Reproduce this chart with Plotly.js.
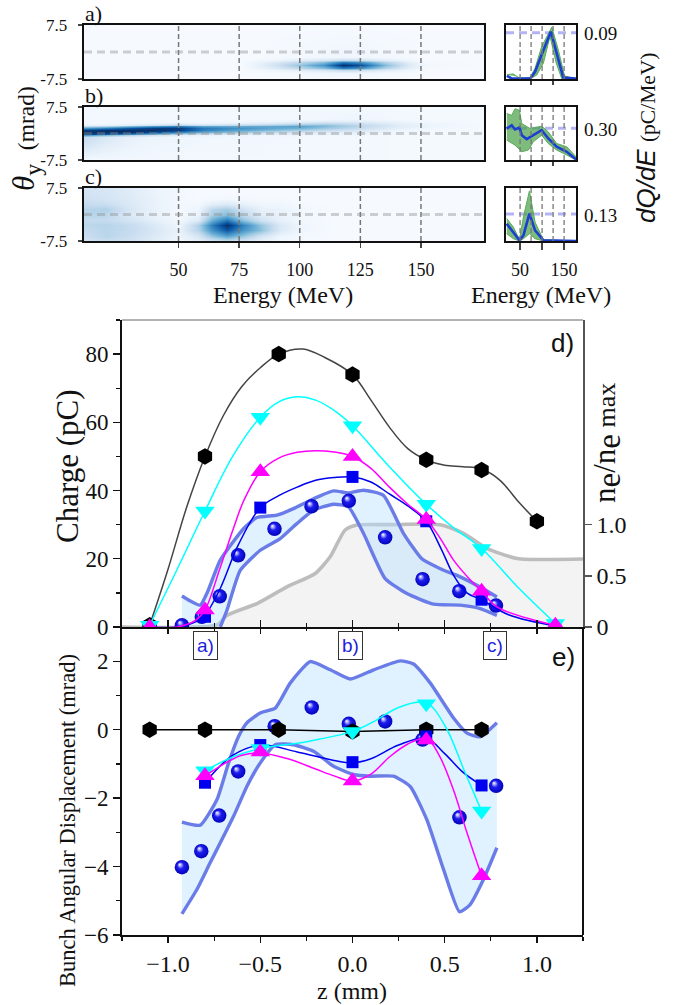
<!DOCTYPE html>
<html><head><meta charset="utf-8">
<script src="https://cdn.plot.ly/plotly-3.0.1.min.js"></script>
<style>html,body{margin:0;padding:0;background:#fff}</style></head>
<body><div id="plot" style="width:686px;height:1005px"></div>
<script>
// ---------- heatmap a
const hmAEnergy=[11,75,82,90,100,110,118,125,135,145,152,176];
const hmATheta=[-7.5,-5.8,-5.1,-4.4,-3.6,-2.8,-2.1,-1.4,7.5];
const hmAZ=[
[0,0,0,0,0,0,0,0,0,0,0,0],
[0,0,0,.01,.02,.03,.04,.04,.02,.01,0,0],
[0,0,.02,.05,.1,.16,.25,.22,.11,.04,0,0],
[0,0,.05,.14,.28,.43,.7,.62,.31,.1,.01,0],
[0,0,.07,.2,.4,.62,1,.88,.45,.14,.02,0],
[0,0,.05,.14,.28,.43,.7,.62,.31,.1,.01,0],
[0,0,.02,.05,.1,.16,.25,.22,.11,.04,0,0],
[0,0,0,.01,.02,.03,.04,.04,.02,.01,0,0],
[0,0,0,0,0,0,0,0,0,0,0,0]];
// ---------- heatmap b (one list per energy)
const hmBEnergy=[11,20,30,40,50,60,75,90,100,110,125,140,155,176];
const hmBTheta=[-7.5,-1,-.5,0,.5,1,1.5,2,2.5,3,3.5,4,7.5];
const hmBZ=[
[.02,.25,.6,.95,1,.95,.6,.25,.06,.02,.02,.02,.02],
[.02,.15,.45,.85,1,1,.7,.3,.08,.02,.02,.02,.02],
[.02,.08,.3,.7,1,1,.85,.45,.12,.03,.02,.02,.02],
[.02,.05,.18,.5,.9,1,.95,.6,.2,.05,.02,.02,.02],
[.02,.04,.1,.3,.7,.95,.95,.7,.3,.07,.02,.02,.02],
[.02,.03,.07,.2,.5,.7,.72,.55,.22,.05,.02,.02,.02],
[.02,.03,.05,.15,.38,.55,.62,.52,.28,.08,.02,.02,.02],
[.02,.02,.04,.1,.25,.42,.52,.54,.35,.14,.04,.02,.02],
[.02,.02,.04,.08,.18,.35,.48,.55,.42,.2,.07,.02,.02],
[.02,.02,.03,.06,.12,.25,.38,.45,.42,.25,.1,.03,.02],
[.02,.02,.03,.05,.1,.16,.24,.28,.27,.2,.1,.04,.02],
[.01,.01,.01,.02,.03,.05,.09,.12,.12,.09,.05,.02,.01],
[.01,.01,.01,.01,.01,.02,.03,.05,.05,.04,.02,.01,.01],
[.01,.01,.01,.01,.01,.01,.01,.01,.01,.01,.01,.01,.01]];
// ---------- heatmap c
const hmCEnergy=[11,20,30,40,50,58,64,70,76,84,92,100,115,176];
const hmCTheta=[-7.5,-6,-4.5,-3,-1.5,0,1.5,3,4.5,6,7.5];
const hmCZ=[
[.18,.23,.2,.11,.04,.08,.17,.24,.17,.08,.03,.01,0,0],
[.23,.29,.23,.14,.05,.16,.4,.55,.4,.18,.05,.02,0,0],
[.25,.29,.25,.16,.06,.3,.62,.85,.62,.42,.14,.04,0,0],
[.28,.3,.25,.14,.04,.32,.7,1,.7,.4,.15,.04,0,0],
[.25,.25,.18,.09,.03,.12,.5,.72,.42,.2,.08,.03,0,0],
[.3,.28,.14,.07,.02,.06,.35,.45,.28,.12,.07,.03,0,0],
[.3,.32,.16,.07,.02,.04,.28,.35,.2,.08,.06,.03,0,0],
[.25,.23,.14,.07,.02,.02,.1,.14,.08,.04,.03,.01,0,0],
[.21,.18,.13,.07,.02,0,.02,.03,.02,.01,.01,0,0,0],
[.18,.17,.12,.06,.02,0,0,0,0,0,0,0,0,0],
[.18,.16,.12,.06,.02,0,0,0,0,0,0,0,0,0]];
// ---------- spectra
const specAE=[20,31,73,84,99,120,135,148,177];
const specAV=[.006,.001,.001,.014,.047,.092,.044,.003,.001];
const specAUpE=[20,34,50,73,84,99,122,137,151,177];
const specAUpV=[.008,.010,.001,.003,.021,.063,.101,.056,.006,.001];
const specALoE=[73,88,103,118,132,145,177];
const specALoV=[0,.008,.031,.083,.031,0,0];
const specBE=[19.7,31,38.6,48.5,53.8,65,80,99,114,133,156,177];
const specBV=[.297,.328,.288,.306,.234,.197,.234,.281,.203,.125,.078,.006];
const specBUpE=[19.7,31,38.6,48.5,53.8,72.7,99,114,133,156,177];
const specBUpV=[.4375,.422,.484,.469,.344,.297,.319,.266,.156,.125,.031];
const specBLoE=[19.7,38.6,53.8,69,80,99,114,133,156,177];
const specBLoV=[.1875,.14,.078,.094,.172,.234,.156,.094,.047,0];
const specCE=[19.7,34.8,48.5,57.6,71.2,84,103,177];
const specCV=[.083,.043,.003,.027,.132,.051,.003,0];
const specCUpV=[.108,.067,.006,.116,.241,.091,.006,0];
const specCLoV=[.035,.011,0,.011,.035,.011,0,0];
const peakValues=[.09,.30,.13];
const peakLabels=['0.09','0.30','0.13'];
// ---------- d) charge
const dBlackZ=[-1.1,-.8,-.4,0,.4,.7,1.0];
const dBlackQ=[.5,50,80,74,49,46,31];
const dBlackCurveZ=[-1.1,-1,-.9,-.8,-.7,-.6,-.5,-.4,-.27,-.15,0,.1,.2,.3,.4,.5,.6,.7,.8,.9,1.0];
const dBlackCurveQ=[.5,17,35,50,62,70.5,76,80,81.5,79,74,66.5,58.6,52.3,49,47.4,47,46.3,43,36.7,31];
const dCyanZ=[-1.1,-.8,-.5,0,.4,.7,1.1];
const dCyanQ=[.5,34,61.5,59,36,23,1];
const dCyanCurveZ=[-1.1,-.95,-.8,-.65,-.5,-.4,-.3,-.2,-.1,0,.2,.4,.55,.7,.9,1.1];
const dCyanCurveQ=[.5,17,34,50,61.5,66,67.5,66.5,63.5,59,47,36,29,23,11.5,1];
const dMagZ=[-1.1,-.8,-.5,0,.4,.7,1.1];
const dMagQ=[0,5,45.5,50,31.5,10.5,.5];
const dMagCurveZ=[-1.1,-.95,-.85,-.8,-.72,-.645,-.59,-.5,-.4,-.3,-.2,-.1,0,.1,.2,.3,.4,.476,.548,.656,.7,.783,1.1];
const dMagCurveQ=[0,0,2,5,17,29,37,45.5,49.5,51.2,51.7,51.3,50,46.5,41,36,31.5,26,19.6,12.8,10.5,5.9,.5];
const dSquareZ=[-1.1,-.8,-.5,0,.4,.7,1.1];
const dSquareQ=[0,3,35,44,31,8,.3];
const dSquareCurveZ=[-1.1,-.95,-.85,-.8,-.72,-.62,-.5,-.4,-.3,-.2,-.1,0,.1,.2,.3,.4,.48,.55,.62,.7,.85,1.1];
const dSquareCurveQ=[0,0,1.5,3.5,11,24,35,38.5,41,43,43.8,44,42.5,39,35.5,31,23,15,10,8,3.5,.3];
const dSphereZ=[-1.1,-.925,-.817,-.72,-.62,-.423,-.222,-.02,.177,.38,.579,.778];
const dSphereQ=[0,.5,3,9,21,28.8,35.4,37,26.3,14,10.5,6.3];
const dBandUpZ=[-.925,-.826,-.79,-.717,-.591,-.518,-.41,-.32,-.211,-.103,-.022,.06,.168,.277,.376,.476,.584,.692,.783];
const dBandUpQ=[9.1,6.4,9.8,19.6,28.8,32.1,32.8,34.7,37.6,39.9,39.3,40.1,38.6,27.4,20,17.1,14.7,11.7,8.8];
const dBandLoZ=[-.717,-.681,-.609,-.5,-.392,-.302,-.211,-.103,-.022,.06,.177,.295,.439,.584,.692,.783];
const dBandLoQ=[0,4.9,16.6,22.5,25.9,30.3,34.2,36,35.2,27.4,14.2,9.8,6.7,6.4,5.4,3.4];
const densityZ=[-1.25,-.735,-.681,-.518,-.356,-.202,-.121,-.04,.024,.2,.476,.602,.729,.892,1.25];
const densityN=[0,.02,.115,.229,.392,.523,.686,.948,.997,1,1,.916,.769,.67,.664];
// ---------- e) displacement
const eBlackZ=[-1.1,-.8,-.4,0,.4,.7];
const eBlackT=[0,0,0,-.05,0,0];
const eCyanZ=[-.8,-.5,0,.4,.7];
const eCyanT=[-1.2,-.55,-.05,.76,-2.38];
const eCyanCurveZ=[-.8,-.65,-.5,-.25,0,.12,.25,.4,.503,.604,.7];
const eCyanCurveT=[-1.2,-.8,-.55,-.35,-.05,.25,.65,.78,.1,-1.17,-2.38];
const eSquareZ=[-.8,-.5,0,.4,.7];
const eSquareT=[-1.55,-.45,-.95,-.2,-1.63];
const eSquareCurveZ=[-.8,-.65,-.5,-.3,-.1,0,.1,.25,.4,.5,.6,.7];
const eSquareCurveT=[-1.55,-.75,-.45,-.65,-.9,-.97,-.85,-.45,-.25,-.7,-1.25,-1.63];
const eMagZ=[-.8,-.5,0,.4,.7];
const eMagT=[-1.35,-.65,-1.5,-.3,-4.27];
const eMagCurveZ=[-.8,-.68,-.6,-.5,-.35,-.2,-.1,0,.1,.2,.3,.4,.47,.55,.62,.7];
const eMagCurveT=[-1.35,-.95,-.75,-.68,-.85,-1.15,-1.35,-1.5,-1.3,-.8,-.42,-.25,-.75,-1.8,-3,-4.27];
const eSphereZ=[-.925,-.82,-.723,-.62,-.422,-.221,-.02,.177,.38,.58,.779];
const eSphereT=[-4.02,-3.55,-2.51,-1.22,.1,.65,.17,.24,-.29,-2.56,-1.64];
const eBandUpZ=[-.925,-.826,-.735,-.672,-.618,-.573,-.5,-.419,-.338,-.229,-.121,-.012,.115,.259,.331,.422,.548,.621,.692,.783];
const eBandUpT=[-2.7,-2.79,-2.04,-.97,-.2,.2,.49,.63,1.36,1.99,1.75,1.48,1.75,2.01,1.92,1.36,.34,-.1,-.21,.2];
const eBandLoZ=[-.925,-.844,-.772,-.645,-.573,-.5,-.419,-.32,-.211,-.103,.005,.096,.222,.313,.403,.494,.58,.638,.71,.783];
const eBandLoT=[-5.38,-4.67,-3.89,-2.53,-1.66,-.97,-.44,-.44,-.63,-1.07,-1.31,-1.36,-1.36,-1.66,-2.63,-4.09,-5.32,-5.11,-4.38,-3.45];
const energyGuides=[50,75,100,125,150];
// ---------- tick labels and texts
const heatTicks=[-7.5,7.5], heatTickText=['-7.5','7.5'];
const energyTicks=[50,75,100,125,150];
const sideTicksTop=[75,125], sideTicksBottom=[50,100,150], sideTickText=['50','','150'];

const W=686,H=1005,SERIF='Liberation Serif',SANS='Liberation Sans';
const fx=p=>p/W, fy=p=>1-p/H;
const blues=[[0,'#f6faff'],[.125,'#deebf7'],[.25,'#c6dbef'],[.375,'#9ecae1'],[.5,'#6baed6'],[.625,'#4292c6'],[.75,'#2171b5'],[.875,'#08519c'],[1,'#08306b']];
const BAND='#6a7ce8',FILL='rgba(180,225,255,.42)',GREEN='rgba(70,160,70,.7)',GLINE='#58ad58',BLINE='#1c3fd0';
const SPHERE='#0000e1';
let traces=[],annotations=[],shapes=[];

function heat(x,y,z,ax,transpose){traces.push({type:'heatmap',x,y,z,xaxis:'x'+ax,yaxis:'y'+ax,zmin:0,zmax:1,zsmooth:'best',colorscale:blues,showscale:false,transpose:!!transpose,hoverinfo:'skip'});}
heat(hmAEnergy,hmATheta,hmAZ,'');
heat(hmBEnergy,hmBTheta,hmBZ,'2',true);
heat(hmCEnergy,hmCTheta,hmCZ,'3');

function side(ax,e,v,ue,uv,le,lv){
  const xs=ue.concat(le.slice().reverse()), ys=uv.concat(lv.slice().reverse());
  const a={xaxis:'x'+ax,yaxis:'y'+ax,hoverinfo:'skip'};
  traces.push({...a,x:xs,y:ys,mode:'lines',fill:'toself',fillcolor:GREEN,line:{color:GLINE,width:1}});
  traces.push({...a,x:e,y:v,mode:'lines',line:{color:BLINE,width:2.6}});
}
side('4',specAE,specAV,specAUpE,specAUpV,specALoE,specALoV);
side('5',specBE,specBV,specBUpE,specBUpV,specBLoE,specBLoV);
side('6',specCE,specCV,specCE,specCUpV,specCE,specCLoV);

['','2','3'].forEach(ax=>{
  energyGuides.forEach(e=>shapes.push({type:'line',xref:'x'+ax,yref:'y'+ax,x0:e,x1:e,y0:-7.5,y1:7.5,layer:'above',line:{color:'#777',width:1.5,dash:'5px,3px'}}));
  shapes.push({type:'line',xref:'x'+ax,yref:'y'+ax,x0:11,x1:176,y0:0,y1:0,layer:'above',line:{color:'rgba(140,140,140,.4)',width:2.8,dash:'8px,5px'}});
});
['4','5','6'].forEach((ax,i)=>{
  shapes.push({type:'line',xref:'x'+ax,yref:'y'+ax,x0:18,x1:177,y0:peakValues[i],y1:peakValues[i],layer:'below',line:{color:'#b4b4f4',width:3,dash:'8px,5px'}});
  energyGuides.forEach(e=>shapes.push({type:'line',xref:'x'+ax,yref:'y'+ax+' domain',x0:e,x1:e,y0:0,y1:1,layer:'above',line:{color:'#777',width:1.3,dash:'5px,3px'}}));
});

traces.push({x:densityZ,y:densityN,xaxis:'x7',yaxis:'y8',mode:'lines',line:{color:'#bdbdbd',width:3.6,shape:'spline',smoothing:.6},fill:'tozeroy',fillcolor:'#f3f3f3',hoverinfo:'skip'});

function band(ax,yax,uz,uv,lz,lv,extra){
  const xs=uz.concat(lz.slice().reverse()), ys=uv.concat(lv.slice().reverse());
  if(extra){xs.push(uz[0]);ys.push(extra);}
  const a={xaxis:ax,yaxis:yax,hoverinfo:'skip'};
  traces.push({...a,x:xs,y:ys,mode:'lines',fill:'toself',fillcolor:FILL,line:{width:0,color:'rgba(0,0,0,0)'}});
  [[uz,uv],[lz,lv]].forEach(p=>traces.push({...a,x:p[0],y:p[1],mode:'lines',line:{color:BAND,width:3.4,shape:'spline',smoothing:.5}}));
}
function series(ax,yax,lz,lv,mz,mv,color,sym,size){
  const a={xaxis:ax,yaxis:yax,hoverinfo:'skip'};
  traces.push({...a,x:lz,y:lv,mode:'lines',line:{color:color==='#000000'?'#444':color,width:1.5,shape:'spline',smoothing:1}});
  traces.push({...a,x:mz,y:mv,mode:'markers',marker:{color,symbol:sym,size,line:{width:0}}});
}
function spheres(ax,yax,z,v){traces.push({xaxis:ax,yaxis:yax,x:z,y:v,mode:'markers',hoverinfo:'skip',marker:{color:SPHERE,symbol:'circle',size:14.5,line:{width:0}}});}

band('x7','y7',dBandUpZ,dBandUpQ,dBandLoZ,dBandLoQ,0.001);
spheres('x7','y7',dSphereZ,dSphereQ);
series('x7','y7',dBlackCurveZ,dBlackCurveQ,dBlackZ,dBlackQ,'#000000','hexagon',16.5);
series('x7','y7',dSquareCurveZ,dSquareCurveQ,dSquareZ,dSquareQ,'#0000f0','square',12);
series('x7','y7',dCyanCurveZ,dCyanCurveQ,dCyanZ,dCyanQ,'#00ffff','triangle-down',17);
series('x7','y7',dMagCurveZ,dMagCurveQ,dMagZ,dMagQ,'#ff00ff','triangle-up',17);

band('x9','y9',eBandUpZ,eBandUpT,eBandLoZ,eBandLoT);
spheres('x9','y9',eSphereZ,eSphereT);
traces.push({xaxis:'x9',yaxis:'y9',x:eBlackZ,y:eBlackT,mode:'lines',line:{color:'#000',width:1.5},hoverinfo:'skip'});
traces.push({xaxis:'x9',yaxis:'y9',x:eBlackZ,y:eBlackT,mode:'markers',marker:{color:'#000000',symbol:'hexagon',size:16.5},hoverinfo:'skip'});
series('x9','y9',eSquareCurveZ,eSquareCurveT,eSquareZ,eSquareT,'#0000f0','square',12);
series('x9','y9',eCyanCurveZ,eCyanCurveT,eCyanZ,eCyanT,'#00ffff','triangle-down',17);
series('x9','y9',eMagCurveZ,eMagCurveT,eMagZ,eMagT,'#ff00ff','triangle-up',17);
traces.push({xaxis:'x10',yaxis:'y9',x:[null],y:[null],mode:'markers',hoverinfo:'skip'});

function note(text,x,y,size,o){annotations.push(Object.assign({xref:'paper',yref:'paper',x:fx(x),y:fy(y),text,showarrow:false,xanchor:'center',yanchor:'middle',font:{family:SERIF,size,color:'#111'}},o||{}));}
note('a)',94,14,22); note('b)',94,95,22); note('c)',93,177,22);
note('<i>θ</i><sub><span style="font-size:24px">y</span></sub> <span style="font-size:23.5px"> (mrad)</span>',26,139,31,{textangle:-90});
note('Energy (MeV)',283,295,24); note('Energy (MeV)',541,295,24);
peakLabels.forEach((t,i)=>note(t,600,[33,129,215][i],19));
note('<i>dQ/dE</i> <span style="font-family:\'Liberation Serif\';font-size:21.5px">(pC/MeV)</span>',646,138,26,{textangle:-90,font:{family:SANS,size:26,color:'#111'}});
note('Charge (pC)',67,466,31,{textangle:-90});
note('<span style="font-size:31px">n</span><sub><span style="font-size:33px">e</span></sub><span style="font-size:31px">/n</span><sub><span style="font-size:33px">e</span></sub> max',607,443,26,{textangle:-90});
note('Bunch Angular Displacement (mrad)',67,821,22.5,{textangle:-90});
note('z (mm)',352,991,24);
note('d)',562,343,26,{font:{family:SANS,size:26,color:'#111'}});
note('e)',563,657,26,{font:{family:SANS,size:26,color:'#111'}});
[['a)',205],['b)',350],['c)',495.5]].forEach(b=>note(b[0],b[1],645,19,{font:{family:SANS,size:19,color:'#1d1de0'},bgcolor:'#fff',bordercolor:'#333',borderwidth:1,borderpad:3}));

function dom(a,b){return [fx(a),fx(b)];}
function vdom(t,b){return [fy(b),fy(t)];}
const frame={showline:true,mirror:true,linewidth:2.4,linecolor:'#111',showgrid:false,zeroline:false,fixedrange:true};
const layout={width:W,height:H,autosize:false,margin:{l:0,r:0,t:0,b:0},paper_bgcolor:'#fff',plot_bgcolor:'rgba(0,0,0,0)',showlegend:false,font:{family:SERIF,color:'#111',size:16},annotations,shapes};

const heatRows=[[25,79],[107,160],[188,241]];
['','2','3'].forEach((ax,i)=>{
  layout['xaxis'+ax]={...frame,domain:dom(84,484),range:[11,176],anchor:'y'+ax,
    ticks:i===2?'outside':'',ticklen:5,tickwidth:1.4,tickmode:'array',tickvals:energyTicks,showticklabels:i===2,tickfont:{family:SERIF,size:18},ticklabelstandoff:6};
  layout['yaxis'+ax]={...frame,domain:vdom(heatRows[i][0],heatRows[i][1]),range:[-7.5,7.5],anchor:'x'+ax,
    ticks:'outside',ticklen:4,tickwidth:1.4,tickmode:'array',tickvals:heatTicks,ticktext:heatTickText,tickfont:{family:SERIF,size:17},ticklabelstandoff:7};
});
const sideMax=[.105,.5,.255];
['4','5','6'].forEach((ax,i)=>{
  layout['xaxis'+ax]={...frame,domain:dom(506,576),range:[18,177],anchor:'y'+ax,ticks:'outside',ticklen:i===2?7:4,tickwidth:1.4,tickmode:'array',
    tickvals:i===2?sideTicksBottom:sideTicksTop,ticktext:i===2?sideTickText:['',''],showticklabels:i===2,tickfont:{family:SERIF,size:18},ticklabelstandoff:4};
  layout['yaxis'+ax]={...frame,domain:vdom(heatRows[i][0],heatRows[i][1]),range:[0,sideMax[i]],anchor:'x'+ax,ticks:'',showticklabels:false};
});
const plain={showgrid:false,zeroline:false,fixedrange:true};
const zMinor={dtick:.25,ticks:'',ticklen:4,tickwidth:1.3,tickcolor:'#111'};
layout.xaxis7={...plain,domain:dom(122,583),range:[-1.25,1.25],anchor:'y7',dtick:.5,tick0:0,ticks:'inside',ticklen:7,tickwidth:1.4,tickcolor:'#111',showticklabels:false,showline:true,linewidth:2,linecolor:'#111',minor:{...zMinor,ticks:'inside'}};
layout.yaxis7={...plain,domain:vdom(320,627),range:[0,90],anchor:'x7',overlaying:'y8',side:'left',dtick:20,ticks:'outside',ticklen:7,tickwidth:1.4,tickcolor:'#111',minor:{dtick:10,ticks:'outside',ticklen:4,tickwidth:1.3,tickcolor:'#111'},showline:true,linewidth:2,linecolor:'#111',tickfont:{family:SERIF,size:23}};
layout.yaxis8={...plain,domain:vdom(320,627),range:[0,3],anchor:'x7',side:'right',tickmode:'array',tickvals:[0,.5,1],ticktext:['0','0.5','1.0'],ticks:'outside',ticklen:7,tickwidth:1.4,tickcolor:'#555',showline:true,linewidth:1.6,linecolor:'#555',tickfont:{family:SERIF,size:24}};
layout.xaxis9={...plain,domain:dom(122,583),range:[-1.25,1.25],anchor:'y9',dtick:.5,tick0:0,tickformat:'.1f',ticks:'outside',ticklen:6,tickwidth:1.4,tickcolor:'#111',showline:true,linewidth:2,linecolor:'#111',minor:{...zMinor,ticks:'outside'},tickfont:{family:SERIF,size:24}};
layout.yaxis9={...plain,domain:vdom(627,935),range:[-6,3],anchor:'x9',dtick:2,ticks:'outside',ticklen:7,tickwidth:1.4,tickcolor:'#111',minor:{dtick:1,ticks:'outside',ticklen:4,tickwidth:1.3,tickcolor:'#111'},showline:true,linewidth:2,linecolor:'#111',tickfont:{family:SERIF,size:23}};
layout.xaxis10={...plain,domain:dom(122,583),range:[-1.25,1.25],anchor:'y9',overlaying:'x9',side:'top',dtick:.5,tick0:0,ticks:'inside',ticklen:7,tickwidth:1.4,tickcolor:'#111',showticklabels:false,minor:{...zMinor,ticks:'inside'}};
shapes.push({type:'line',xref:'paper',yref:'paper',x0:fx(583),x1:fx(583),y0:fy(627),y1:fy(935),line:{color:'#111',width:2}});
shapes.push({type:'line',xref:'paper',yref:'paper',x0:fx(122),x1:fx(583),y0:fy(320),y1:fy(320),line:{color:'#666',width:1}});

Plotly.newPlot('plot',traces,layout,{staticPlot:true,displayModeBar:false}).then(gd=>{
  const svg=gd.querySelector('svg.main-svg');
  const NS='http://www.w3.org/2000/svg';
  const g=document.createElementNS(NS,'radialGradient');
  g.setAttribute('id','sphereShade');
  [['cx','.5'],['cy','.5'],['r','.55'],['fx','.34'],['fy','.3']].forEach(a=>g.setAttribute(a[0],a[1]));
  [[0,'#ffffff'],[.18,'#a8a8f4'],[.42,'#1c1cf0'],[1,'#0000b4']].forEach(s=>{const t=document.createElementNS(NS,'stop');t.setAttribute('offset',s[0]);t.setAttribute('stop-color',s[1]);g.appendChild(t);});
  let d=svg.querySelector('defs'); if(!d){d=document.createElementNS(NS,'defs');svg.insertBefore(d,svg.firstChild);}
  d.appendChild(g);
  gd.querySelectorAll('.scatterlayer path.point').forEach(p=>{if(p.style.fill==='rgb(0, 0, 225)')p.style.fill='url(#sphereShade)';});
});
</script></body></html>
